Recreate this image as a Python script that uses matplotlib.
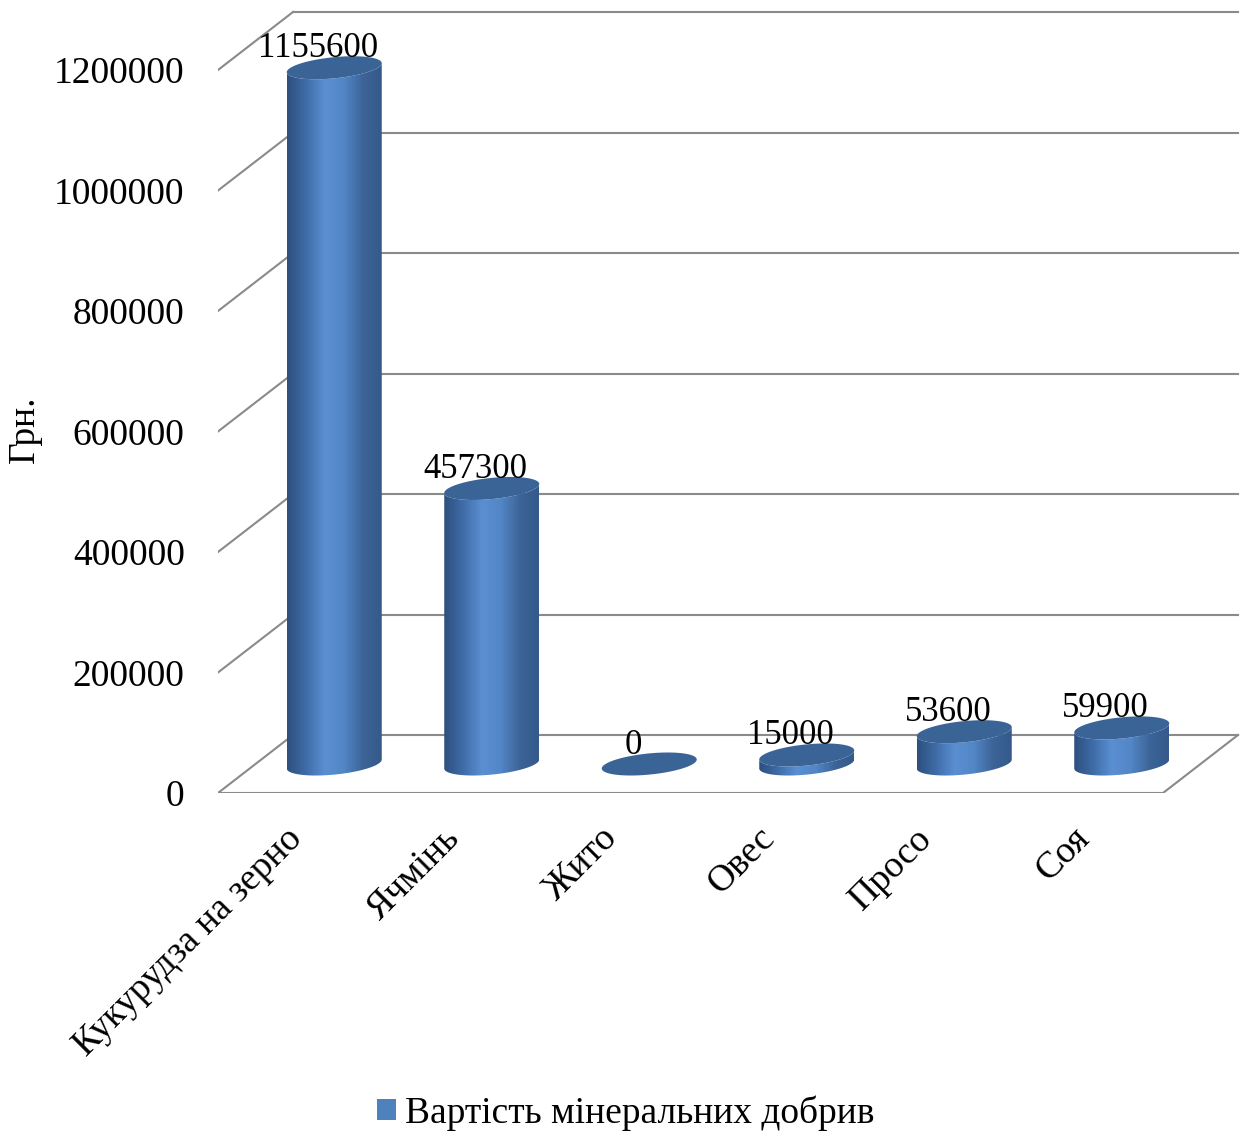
import numpy as np
import matplotlib
matplotlib.use("Agg")
import matplotlib.pyplot as plt
from matplotlib.patches import Polygon, Patch
from matplotlib.colors import LinearSegmentedColormap

plt.rcParams['font.family'] = ['Liberation Serif', 'DejaVu Serif']

# data
crops = ["Кукурудза на зерно", "Ячмінь", "Жито", "Овес", "Просо", "Соя"]
costs = [1155600, 457300, 0, 15000, 53600, 59900]
y_ticks = [0, 200000, 400000, 600000, 800000, 1000000, 1200000]
series_name = "Вартість мінеральних добрив"

# pixel scale of the plot area (fig at 100 dpi)
PX_X = 157.5             # px per category
PX_Y = 120.5 / 200000    # px per unit of value

# 3d depth offset of the back wall, in data units
dx = 75 / PX_X
dy = 58 / PX_Y

# cylinder shape
half_w = 47.5 / PX_X
half_h = 10.6 / PX_Y
shear = (9 / PX_Y) / (2 * half_w)

grid_col = "#8a8a8a"
top_col = "#3b6496"
side_cmap = LinearSegmentedColormap.from_list(
    "side", ["#2d4f7e", "#3f6ca8", "#5a8fd2", "#5286c6", "#3d6498", "#34598a"])

fig = plt.figure(figsize=(12.49, 11.35), dpi=100)
ax = fig.add_axes([218 / 1249, 1 - 793 / 1135, 1022 / 1249, 788 / 1135])

# walls and floor
for v in y_ticks:
    ax.plot([-0.5, -0.5 + dx], [v, v + dy], color=grid_col, lw=1.5, zorder=1)
    ax.plot([-0.5 + dx, 5.5 + dx], [v + dy, v + dy], color=grid_col, lw=1.5, zorder=1)
ax.plot([-0.5, 5.5, 5.5 + dx], [0, 0, dy], color=grid_col, lw=1.5, zorder=1)


def ellipse_pts(xc, yc, t):
    return np.column_stack([xc + half_w * np.cos(t),
                            yc + half_h * np.sin(t) + shear * half_w * np.cos(t)])


t_all = np.linspace(0, 2 * np.pi, 200)
t_low = np.linspace(np.pi, 2 * np.pi, 100)

for i, v in enumerate(costs):
    xc = i + dx / 2
    y0 = dy / 2
    y1 = y0 + v
    if v > 0:
        body = np.vstack([ellipse_pts(xc, y0, t_low), ellipse_pts(xc, y1, t_low[::-1])])
        clip = Polygon(body, closed=True, facecolor="none", edgecolor="none")
        ax.add_patch(clip)
        grad = np.linspace(0, 1, 256).reshape(1, -1)
        im = ax.imshow(grad, cmap=side_cmap, aspect="auto", interpolation="bilinear",
                       extent=[xc - half_w, xc + half_w, y0 - 2 * half_h, y1 + 2 * half_h],
                       zorder=2)
        im.set_clip_path(clip)
    ax.add_patch(Polygon(ellipse_pts(xc, y1, t_all), closed=True,
                         facecolor=top_col, edgecolor="none", zorder=3))
    ax.text(xc - 16 / PX_X, y1 + 19 / PX_Y, f"{v}", ha="center", va="center",
            fontsize=25, zorder=4)

ax.set_xlim(-0.5, -0.5 + 1022 / PX_X)
ax.set_ylim(0, 788 / PX_Y)

ax.set_yticks(y_ticks)
ax.set_yticklabels([str(v) for v in y_ticks], fontsize=27)
ax.set_xticks(range(len(crops)))
ax.set_xticklabels(crops, fontsize=27, rotation=45, ha="right", va="center",
                   rotation_mode="anchor")
ax.tick_params(axis="y", length=0, pad=24)
ax.tick_params(axis="x", length=0, pad=29)
for s in ax.spines.values():
    s.set_visible(False)

ax.set_ylabel("Грн.", fontsize=27)
ax.yaxis.set_label_coords((42 - 218) / 1022, (793 - 429) / 788)

fig.legend(handles=[Patch(facecolor="#4f81bd", edgecolor="none", label=series_name)],
           loc="center", bbox_to_anchor=(626 / 1249, 1 - 1113 / 1135), frameon=False,
           fontsize=27, handlelength=0.5, handleheight=0.5, handletextpad=0.25)

fig.savefig("out.png", dpi=100)
